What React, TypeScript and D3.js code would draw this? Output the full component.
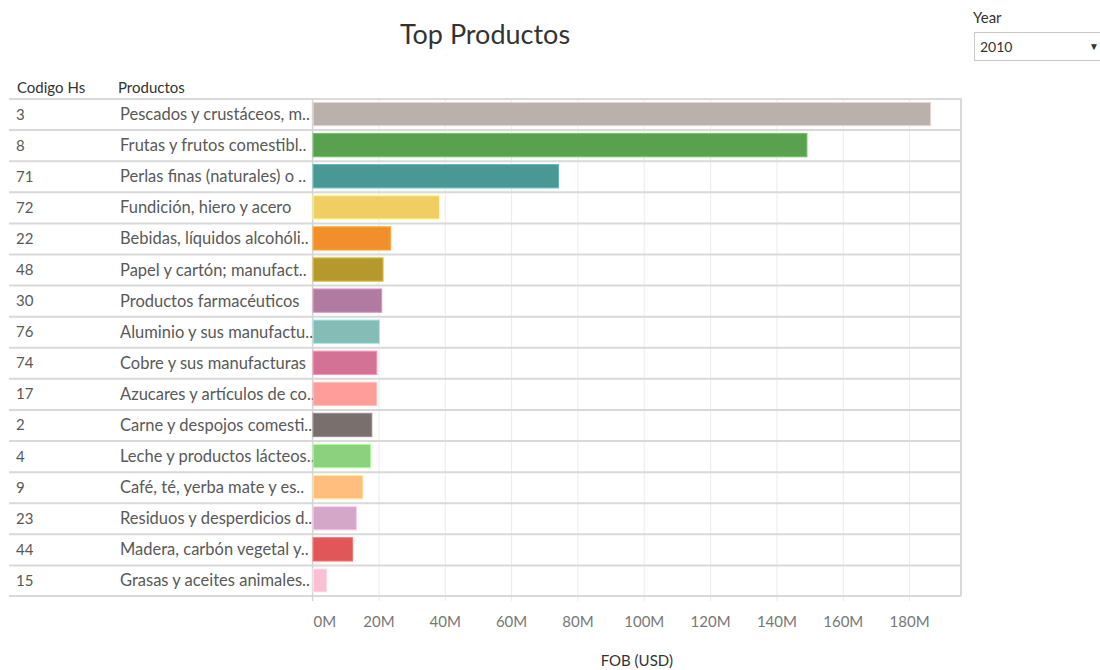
import * as d3 from "d3";
import React from "react";

const codes = ["3", "8", "71", "72", "22", "48", "30", "76", "74", "17", "2", "4", "9", "23", "44", "15"];
const productos = [
  "Pescados y crustáceos, m..",
  "Frutas y frutos comestibl..",
  "Perlas finas (naturales) o ..",
  "Fundición, hiero y acero",
  "Bebidas, líquidos alcohóli..",
  "Papel y cartón; manufact..",
  "Productos farmacéuticos",
  "Aluminio y sus manufactu..",
  "Cobre y sus manufacturas",
  "Azucares y artículos de co..",
  "Carne y despojos comesti..",
  "Leche y productos lácteos..",
  "Café, té, yerba mate y es..",
  "Residuos y desperdicios d..",
  "Madera, carbón vegetal y..",
  "Grasas y aceites animales..",
];
// FOB in millions USD
const fob = [186.2, 148.9, 74.0, 38.1, 23.4, 21.1, 20.7, 20.0, 19.2, 19.2, 17.7, 17.3, 15.0, 13.1, 11.9, 4.2];
const colors = [
  "#BAB0AC", "#59A14F", "#499894", "#F1CE63", "#F28E2B", "#B6992D", "#B07AA1", "#86BCB6",
  "#D37295", "#FF9D9A", "#79706E", "#8CD17D", "#FFBE7D", "#D4A6C8", "#E15759", "#FABFD2",
];
const ticks = [0, 20, 40, 60, 80, 100, 120, 140, 160, 180];

const W = 1100;
const H = 670;
const font = "Lato, 'Noto Sans', sans-serif";

export default function App() {
  const x = d3.scaleLinear().domain([0, 195.5]).range([312.6, 961]);
  const y = d3.scaleBand<string>().domain(codes).range([98.5, 596]).padding(0);
  const rowH = y.bandwidth();
  const barH = rowH * 0.75;

  return (
    <div style={{ position: "absolute", left: 0, top: 0 }}>
      <svg width={W} height={H} style={{ display: "block", fontFamily: font }}>
        <rect width={W} height={H} fill="#fff" />
        <text x={485} y={44} textAnchor="middle" fontSize={27} fill="#333">
          Top Productos
        </text>

        {/* year filter */}
        <text x={973} y={23} fontSize={15} fill="#333">Year</text>
        <rect x={974.5} y={32.5} width={130} height={28} fill="#fff" stroke="#c8c8c8" />
        <text x={980} y={52} fontSize={14} fill="#333">2010</text>
        <text x={1094} y={50} fontSize={10} fill="#333" textAnchor="middle">▼</text>

        {/* headers */}
        <text x={17} y={93} fontSize={15} fill="#333">Codigo Hs</text>
        <text x={118} y={93} fontSize={15} fill="#333">Productos</text>

        {/* vertical gridlines */}
        {ticks.map((t) => (
          <line key={t} x1={x(t)} x2={x(t)} y1={98.5} y2={601} stroke="#ebebeb" strokeWidth={1} />
        ))}

        {/* row separators */}
        {codes.map((c) => (
          <line key={"s" + c} x1={9} x2={961} y1={(y(c) as number) + 0.5} y2={(y(c) as number) + 0.5} stroke="#d9d9d9" strokeWidth={2} />
        ))}
        <line x1={9} x2={961} y1={596} y2={596} stroke="#d9d9d9" strokeWidth={2} />
        <line x1={312.6} x2={312.6} y1={98.5} y2={601} stroke="#d4d4d4" strokeWidth={1.5} />
        <line x1={961} x2={961} y1={98.5} y2={596} stroke="#d9d9d9" strokeWidth={2} />

        {codes.map((c, i) => {
          const y0 = y(c) as number;
          const cy = y0 + rowH / 2;
          return (
            <g key={c}>
              <text x={16} y={cy + 5.5} fontSize={15} fill="#595959">{c}</text>
              <text x={120} y={cy + 6} fontSize={16.5} fill="#595959">{productos[i]}</text>
              <rect
                x={x(0) + 0.5}
                y={cy - barH / 2}
                width={x(fob[i]) - x(0)}
                height={barH}
                fill={colors[i]}
                stroke={d3.color(colors[i])!.brighter(0.6).formatHex()}
                strokeWidth={1}
              />
            </g>
          );
        })}

        {/* axis labels */}
        {ticks.map((t) => (
          <text
            key={"l" + t}
            x={t === 0 ? x(t) + 1 : x(t)}
            y={627}
            textAnchor={t === 0 ? "start" : "middle"}
            fontSize={15}
            fill="#777"
          >
            {t}M
          </text>
        ))}
        <text x={(x(0) + 961) / 2} y={666} textAnchor="middle" fontSize={15} fill="#333">
          FOB (USD)
        </text>
      </svg>
    </div>
  );
}
